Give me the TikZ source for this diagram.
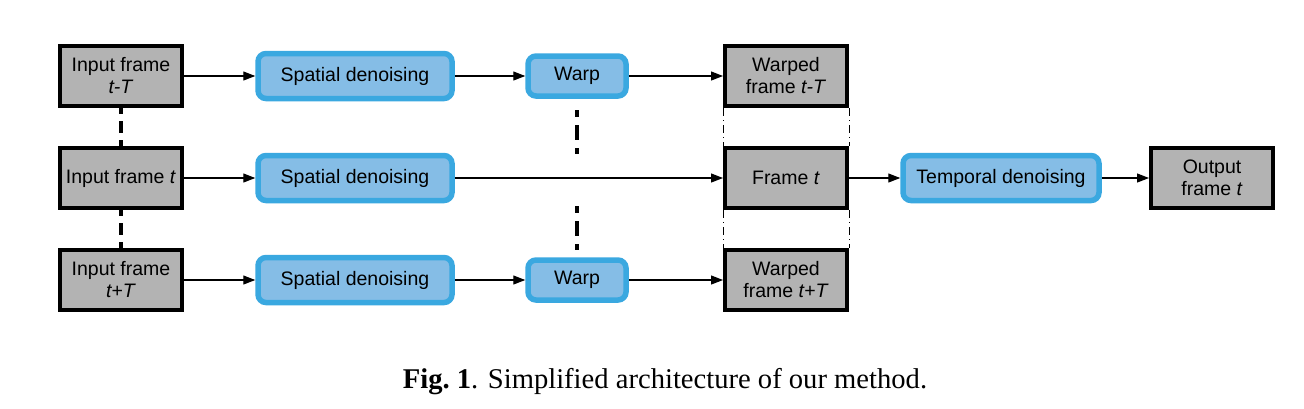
\documentclass[tikz,border=0pt]{standalone}
\usepackage{fontspec}
\setmainfont{Liberation Serif}
\setsansfont{Liberation Sans}
\usetikzlibrary{arrows.meta}
\definecolor{boxgray}{HTML}{B3B3B3}
\definecolor{blueline}{HTML}{3AA8E0}
\definecolor{bluefill}{HTML}{85BDE6}
\begin{document}
\begin{tikzpicture}[x=0.5pt, y=-0.5pt,
    every node/.append style={font=\sffamily\fontsize{9.75}{11}\selectfont, align=center, inner sep=0pt},
    frame/.style={draw, line width=2pt, fill=boxgray, minimum width=61pt, minimum height=30pt},
    block/.style={draw=blueline, line width=2.75pt, fill=bluefill, rounded corners=4pt, minimum height=22.5pt},
    link/.style={-{Triangle[length=6pt,width=4.5pt]}, line width=0.6pt},
    sync/.style={line width=2pt, dash pattern=on 6pt off 3.5pt, dash phase=3pt},
    pair/.style={line width=0.5pt, dash pattern=on 4pt off 2pt on 0.6pt off 2pt}]
    \useasboundingbox (0,0) rectangle (1304,408);

    % input frames
    \node[frame] (in1) at (121,76) {Input frame\\\textit{t-T}};
    \node[frame] (in2) at (121,178) {Input frame \textit{t}};
    \node[frame] (in3) at (121,280) {Input frame\\\textit{t+T}};

    % spatial denoising and warping
    \node[block, minimum width=97pt] (sd1) at (355,76) {Spatial denoising};
    \node[block, minimum width=97pt] (sd2) at (355,178) {Spatial denoising};
    \node[block, minimum width=97pt] (sd3) at (355,280) {Spatial denoising};
    \node[block, minimum width=49pt, minimum height=20pt] (wp1) at (577,76) {Warp};
    \node[block, minimum width=49pt, minimum height=20pt] (wp3) at (577,280) {Warp};

    % aligned frames
    \node[frame] (wf1) at (786,76) {Warped\\frame \textit{t-T}};
    \node[frame] (fr) at (786,178) {Frame \textit{t}};
    \node[frame] (wf3) at (786,280) {Warped\\frame \textit{t+T}};

    \node[block, minimum width=98pt] (td) at (1001,178) {Temporal denoising};
    \node[frame] (out) at (1212,178) {Output\\frame \textit{t}};

    \draw[link] (in1) -- (sd1);
    \draw[link] (sd1) -- (wp1);
    \draw[link] (wp1) -- (wf1);
    \draw[link] (in2) -- (sd2);
    \draw[link] (sd2) -- (fr);
    \draw[link] (fr) -- (td);
    \draw[link] (td) -- (out);
    \draw[link] (in3) -- (sd3);
    \draw[link] (sd3) -- (wp3);
    \draw[link] (wp3) -- (wf3);

    \draw[sync] (in1.south) -- (in2.north);
    \draw[sync] (in2.south) -- (in3.north);
    \coordinate (wt1) at (577,110);
    \coordinate (wt2) at (577,154);
    \coordinate (wb1) at (577,206);
    \coordinate (wb2) at (577,250);
    \draw[line width=2pt, dash pattern=on 7.5pt off 4pt, dash phase=4pt] (wt1) -- (wt2);
    \draw[line width=2pt, dash pattern=on 7.5pt off 4pt, dash phase=4pt] (wb1) -- (wb2);

    \draw[pair] (wf1.south west) -- (fr.north west);
    \draw[pair] (wf1.south east) -- (fr.north east);
    \draw[pair] (fr.south west) -- (wf3.north west);
    \draw[pair] (fr.south east) -- (wf3.north east);

    \node[font=\rmfamily\fontsize{14.3}{16}\selectfont, anchor=base] (cap) at (665,388) {\textbf{Fig.~1}. Simplified architecture of our method.};
\end{tikzpicture}
\end{document}
